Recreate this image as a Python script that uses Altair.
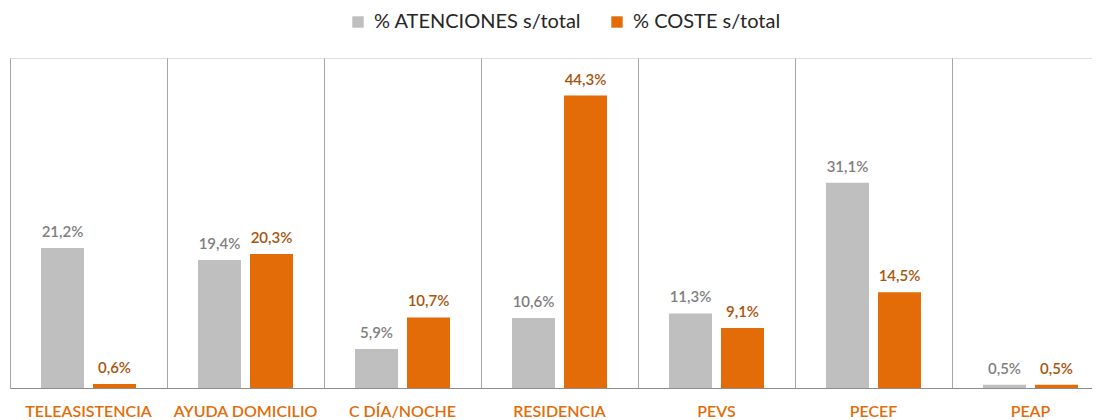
import altair as alt
import pandas as pd

categories = ["TELEASISTENCIA", "AYUDA DOMICILIO", "C DÍA/NOCHE", "RESIDENCIA", "PEVS", "PECEF", "PEAP"]
series = ["% ATENCIONES s/total", "% COSTE s/total"]
atenciones = [21.2, 19.4, 5.9, 10.6, 11.3, 31.1, 0.5]
coste = [0.6, 20.3, 10.7, 44.3, 9.1, 14.5, 0.5]

rows = []
for c, a, k in zip(categories, atenciones, coste):
    rows.append({"cat": c, "serie": series[0], "val": a})
    rows.append({"cat": c, "serie": series[1], "val": k})
df = pd.DataFrame(rows)
df["label"] = df["val"].map(lambda v: f"{v:.1f}".replace(".", ",") + "%")

bar_colors = ["#BFBFBF", "#E36C09"]
text_colors = ["#7F7F7F", "#A9540C"]
FONT = "Lato"

x = alt.X("cat:N", sort=categories, title=None,
          scale=alt.Scale(paddingInner=0, paddingOuter=0, range=[0, 1099]),
          axis=alt.Axis(bandPosition=0, grid=True, gridColor="#A6A6A6", gridWidth=1,
                        ticks=False, domain=True, domainColor="#8C8C8C", domainWidth=1.2,
                        labelAngle=0, labelFont=FONT, labelFontSize=16, labelColor="#E36C09",
                        labelFontWeight=600, labelPadding=15))
xo = alt.XOffset("serie:N", sort=series,
                 scale=alt.Scale(paddingInner=0.173, paddingOuter=0.596))
y = alt.Y("val:Q", scale=alt.Scale(domain=[0, 50]), axis=None, title=None)

bars = alt.Chart(df).mark_bar().encode(
    x=x, xOffset=xo, y=y,
    color=alt.Color("serie:N", sort=series,
                    scale=alt.Scale(domain=series, range=bar_colors),
                    legend=alt.Legend(title=None, orient="none", direction="horizontal",
                                      legendX=338, legendY=-46, symbolType="square",
                                      symbolSize=130, symbolStrokeWidth=0, labelLimit=0,
                                      labelFont=FONT, labelFontSize=20, labelColor="#262626",
                                      columnPadding=25, symbolOffset=0, labelOffset=6)),
)

texts = alt.Chart(df).mark_text(dy=-16, font=FONT, fontSize=15, fontWeight=600).encode(
    x=x, xOffset=xo, y=y, text="label:N",
    color=alt.Color("serie:N", sort=series,
                    scale=alt.Scale(domain=series, range=text_colors), legend=None),
)

chart = alt.layer(bars, texts).resolve_scale(color="independent").properties(
    width=1082, height=330,
    autosize=alt.AutoSizeParams(type="none"),
    padding={"left": 2, "top": 50, "right": 0, "bottom": 32},
).configure_view(stroke=None).configure(background="white")

chart.save("out.html", embed_options={"renderer": "svg", "actions": False})
